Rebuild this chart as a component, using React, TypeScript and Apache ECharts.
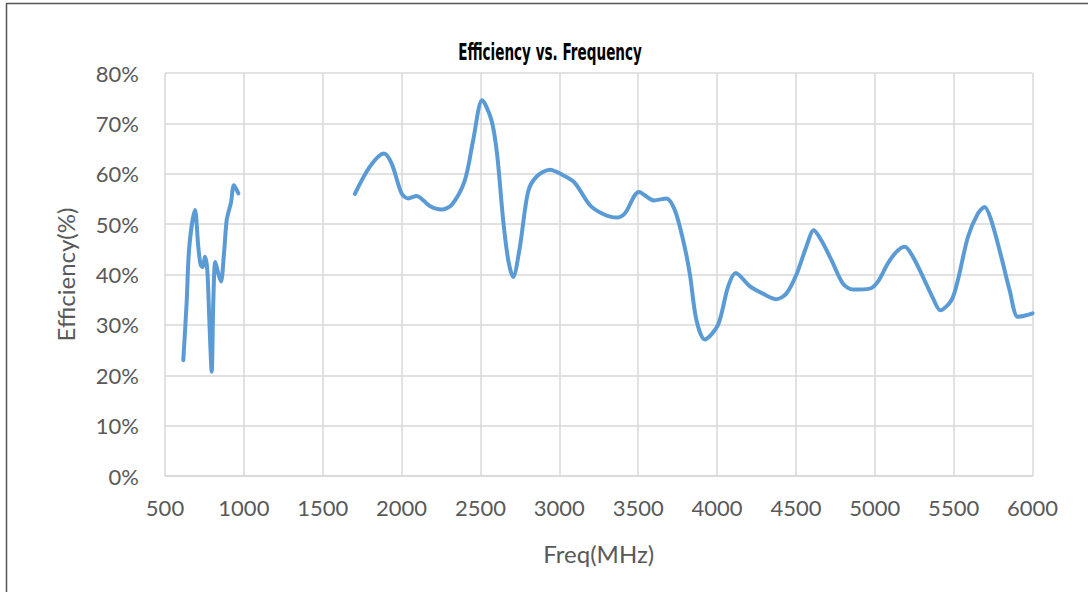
import React, { useEffect, useRef } from "react";
import * as echarts from "echarts";

const lowFreq = [616, 637, 654, 690, 711, 726, 739, 753, 768, 781, 796, 806, 819, 838, 855, 874, 891, 906, 918, 937, 965];
const lowEff = [23.0, 34.3, 45.5, 52.8, 45.5, 41.9, 41.5, 43.5, 40.9, 31.0, 20.7, 34.3, 42.5, 40.2, 38.6, 44.2, 50.8, 52.8, 54.2, 57.7, 56.1];

const highFreq = [1704, 1799, 1888, 1937, 2000, 2042, 2095, 2179, 2253, 2317, 2401, 2454, 2511, 2570, 2605, 2644, 2676, 2707, 2750, 2802, 2855, 2940, 3024, 3098, 3193, 3278, 3362, 3415, 3505, 3600, 3679, 3732, 3785, 3827, 3869, 3922, 4006, 4070, 4118, 4207, 4291, 4376, 4439, 4502, 4566, 4613, 4661, 4725, 4798, 4862, 4968, 5020, 5083, 5137, 5190, 5242, 5306, 5369, 5416, 5486, 5527, 5591, 5654, 5696, 5738, 5802, 5855, 5907, 5960, 6000];
const highEff = [56.0, 61.4, 64.0, 62.0, 56.1, 55.1, 55.6, 53.6, 52.9, 53.8, 58.7, 66.7, 74.6, 70.6, 64.0, 50.8, 42.9, 39.5, 45.5, 56.4, 59.4, 60.8, 59.7, 58.2, 53.8, 52.0, 51.3, 52.1, 56.4, 54.7, 55.1, 52.8, 46.8, 40.2, 31.0, 27.1, 30.0, 37.6, 40.3, 37.7, 36.2, 35.1, 36.2, 39.9, 45.5, 48.8, 46.8, 42.9, 38.2, 37.0, 37.2, 38.6, 42.2, 44.5, 45.5, 43.5, 39.5, 35.3, 32.9, 34.9, 38.9, 47.5, 52.1, 53.4, 50.8, 43.5, 36.9, 31.6, 31.9, 32.3];

const titleText = "Efficiency vs. Frequency";
const xName = "Freq(MHz)";
const yName = "Efficiency(%)";

export default function App() {
  const ref = useRef<HTMLDivElement>(null);
  useEffect(() => {
    document.body.style.margin = "0";
    const chart = echarts.init(ref.current!, null, { renderer: "svg" });
    const data: any[] = [];
    lowFreq.forEach((f, i) => data.push([f, lowEff[i]]));
    data.push([1300, "-"]);
    highFreq.forEach((f, i) => data.push([f, highEff[i]]));
    const grey = "#595959";
    const gridColor = "#d9d9d9";
    chart.setOption({
      animation: false,
      backgroundColor: "#ffffff",
      textStyle: { fontFamily: "Lato" },
      grid: { left: 165, right: 55.5, top: 73, bottom: 116, containLabel: false },
      graphic: [
        { type: "line", shape: { x1: 6, y1: 3.5, x2: 1088, y2: 3.5 }, style: { stroke: "#555", lineWidth: 1.5 } },
        { type: "line", shape: { x1: 6.5, y1: 3.5, x2: 6.5, y2: 592 }, style: { stroke: "#555", lineWidth: 1.5 } },
        {
          type: "text",
          x: 550,
          y: 51,
          scaleX: 0.59,
          style: {
            text: titleText,
            fontFamily: "DejaVu Sans",
            fontWeight: "bold",
            fontSize: 23,
            fill: "#000",
            textAlign: "center",
            textVerticalAlign: "middle",
          },
        },
      ],
      xAxis: {
        type: "value",
        min: 500,
        max: 6000,
        interval: 500,
        name: xName,
        nameLocation: "middle",
        nameGap: 65,
        nameTextStyle: { color: grey, fontSize: 24, fontFamily: "Lato", verticalAlign: "top" },
        axisLine: { show: true, lineStyle: { color: gridColor, width: 1.5 } },
        axisTick: { show: false },
        axisLabel: { color: grey, fontSize: 22, margin: 20, fontFamily: "Lato", formatter: (v: number) => String(v) },
        splitLine: { show: true, lineStyle: { color: gridColor, width: 1.5 } },
      },
      yAxis: {
        type: "value",
        min: 0,
        max: 80,
        interval: 10,
        name: yName,
        nameLocation: "middle",
        nameGap: 88,
        nameRotate: 90,
        nameTextStyle: { color: grey, fontSize: 24, fontFamily: "Lato" },
        axisLine: { show: false },
        axisTick: { show: false },
        axisLabel: { color: grey, fontSize: 22, margin: 26, formatter: "{value}%", fontFamily: "Lato" },
        splitLine: { show: true, lineStyle: { color: gridColor, width: 1.5 } },
      },
      series: [
        {
          name: "Efficiency",
          type: "line",
          data,
          smooth: 0.3,
          connectNulls: false,
          showSymbol: false,
          symbol: "none",
          clip: false,
          lineStyle: { color: "#5b9bd5", width: 4, cap: "round", join: "round" },
        },
      ],
    });
    return () => chart.dispose();
  }, []);
  return <div ref={ref} style={{ position: "fixed", left: 0, top: 0, width: 1088, height: 592 }} />;
}
